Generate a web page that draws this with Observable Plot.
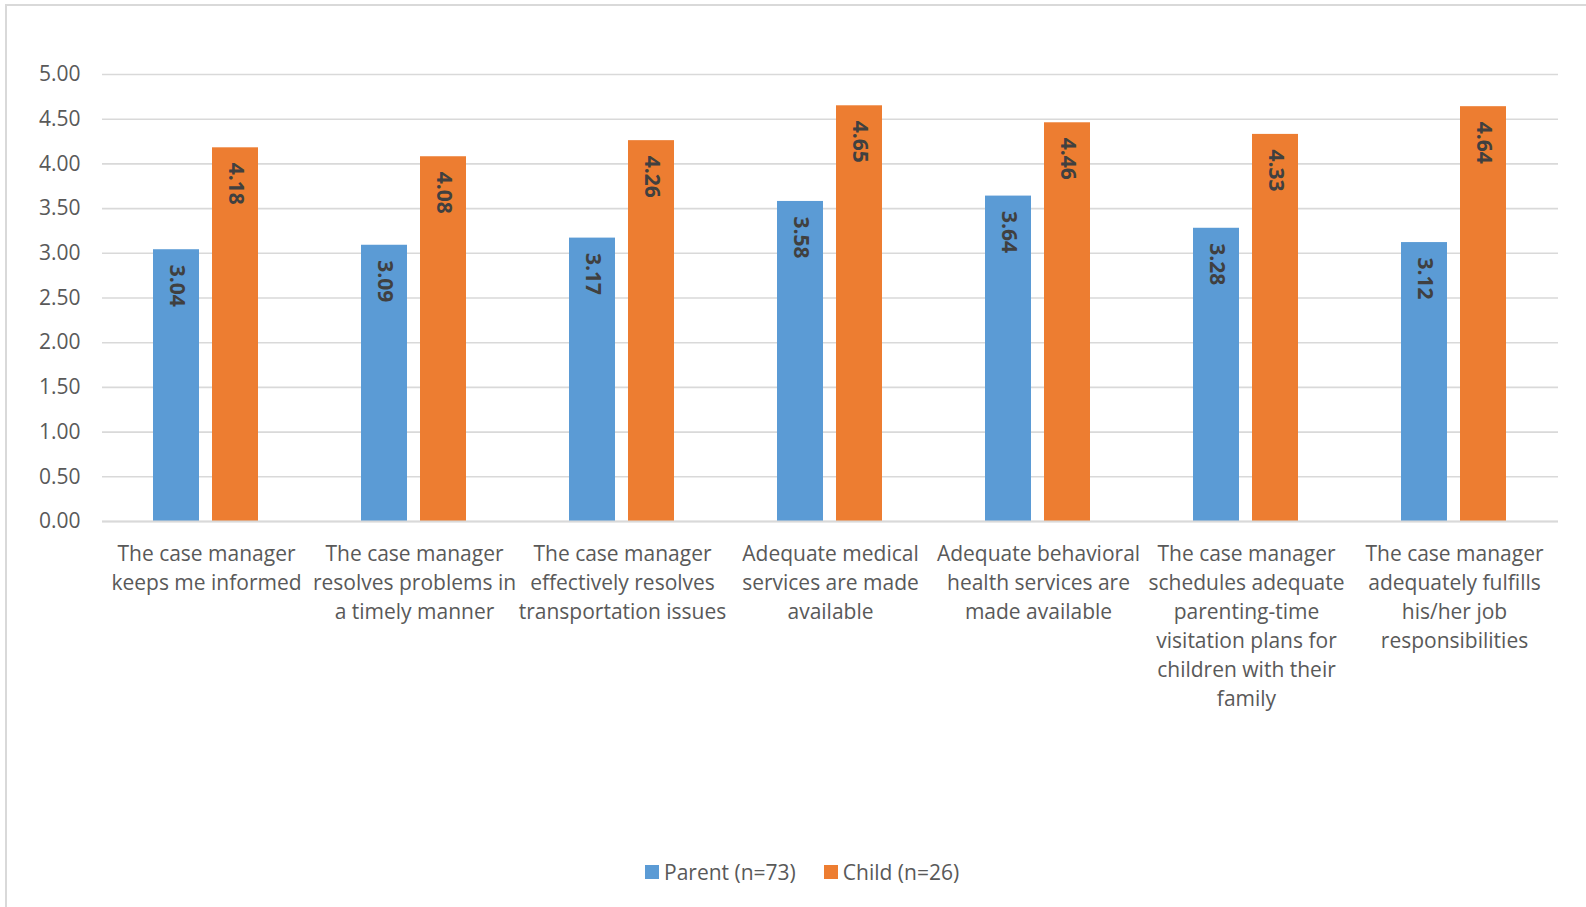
<!DOCTYPE html>
<html>
<head>
<meta charset="utf-8">
<script src="https://cdn.jsdelivr.net/npm/d3@7"></script>
<script src="https://cdn.jsdelivr.net/npm/@observablehq/plot@0.6"></script>
<style>
  html, body { margin: 0; padding: 0; background: #fff; overflow: hidden; width: 1586px; height: 907px; }
  #frame { position: absolute; left: 5px; top: 4px; width: 1600px; height: 930px; border: 2px solid #d9d9d9; box-sizing: border-box; }
  #chart { position: absolute; left: 0; top: 0; }
  #legend { position: absolute; left: 645px; top: 858px; display: flex; align-items: center; font-family: "Open Sans", sans-serif; font-size: 21px; color: #595959; white-space: nowrap; }
  .item { display: flex; align-items: center; margin-right: 28px; }
  .sw { width: 14px; height: 14px; margin-right: 5px; }
</style>
</head>
<body>
<div id="frame"></div>
<div id="chart"></div>
<div id="legend"></div>
<script>
const categories = [
  "The case manager keeps me informed",
  "The case manager resolves problems in a timely manner",
  "The case manager effectively resolves transportation issues",
  "Adequate medical services are made available",
  "Adequate behavioral health services are made available",
  "The case manager schedules adequate parenting-time visitation plans for children with their family",
  "The case manager adequately fulfills his/her job responsibilities"
];
const categoryLabels = [
  "The case manager\nkeeps me informed",
  "The case manager\nresolves problems in\na timely manner",
  "The case manager\neffectively resolves\ntransportation issues",
  "Adequate medical\nservices are made\navailable",
  "Adequate behavioral\nhealth services are\nmade available",
  "The case manager\nschedules adequate\nparenting-time\nvisitation plans for\nchildren with their\nfamily",
  "The case manager\nadequately fulfills\nhis/her job\nresponsibilities"
];
const seriesNames = ["Parent (n=73)", "Child (n=26)"];
const seriesColors = ["#5B9BD5", "#ED7D31"];
const parentValues = [3.04, 3.09, 3.17, 3.58, 3.64, 3.28, 3.12];
const childValues = [4.18, 4.08, 4.26, 4.65, 4.46, 4.33, 4.64];
const yTicks = [0, 0.5, 1, 1.5, 2, 2.5, 3, 3.5, 4, 4.5, 5];

const data = [];
categories.forEach((c, i) => {
  data.push({category: c, series: seriesNames[0], value: parentValues[i]});
  data.push({category: c, series: seriesNames[1], value: childValues[i]});
});
const labelOf = new Map(categories.map((c, i) => [c, categoryLabels[i]]));

const chart = Plot.plot({
  width: 1586,
  height: 720,
  marginLeft: 102,
  marginRight: 28,
  marginTop: 74,
  marginBottom: 199,
  style: {fontFamily: "Open Sans, sans-serif", fontSize: "21px", color: "#595959", background: "transparent"},
  fx: {domain: categories, padding: 0, label: null},
  x: {domain: seriesNames, paddingInner: 0.218, paddingOuter: 0.857, axis: null},
  y: {domain: [0, 5], label: null},
  color: {domain: seriesNames, range: seriesColors},
  marks: [
    Plot.gridY(yTicks, {stroke: "#d9d9d9", strokeOpacity: 1, strokeWidth: 1.6}),
    Plot.axisY(yTicks, {tickFormat: d3.format(".2f"), tickSize: 0, tickPadding: 22, label: null, fontSize: 21, fill: "#595959"}),
    Plot.axisFx({anchor: "bottom", tickFormat: d => labelOf.get(d), tickSize: 0, tickPadding: 19, label: null, lineHeight: 1.38, fontSize: 21, fill: "#595959"}),
    Plot.barY(data, {fx: "category", x: "series", y: "value", fill: "series"}),
    Plot.ruleY([0], {stroke: "#d9d9d9", strokeWidth: 2}),
    Plot.text(data, {fx: "category", x: "series", y: "value", text: d => d3.format(".2f")(d.value), rotate: 90, textAnchor: "start", lineAnchor: "middle", dy: 15, fill: "#404040", fontWeight: "bold", fontSize: 21})
  ]
});
document.getElementById("chart").appendChild(chart);

const legend = document.getElementById("legend");
seriesNames.forEach((s, i) => {
  const item = document.createElement("div");
  item.className = "item";
  const sw = document.createElement("div");
  sw.className = "sw";
  sw.style.background = seriesColors[i];
  const t = document.createElement("span");
  t.textContent = s;
  item.appendChild(sw);
  item.appendChild(t);
  legend.appendChild(item);
});
</script>
</body>
</html>
